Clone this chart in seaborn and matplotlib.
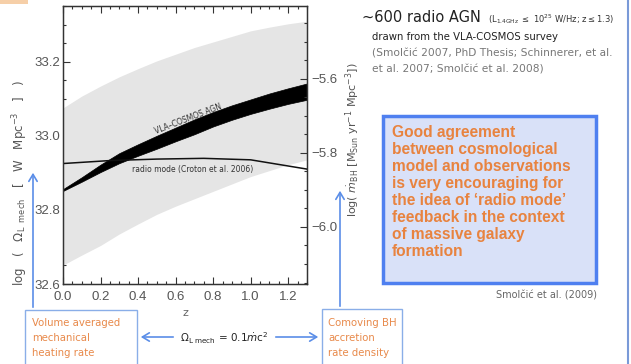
import numpy as np
import pandas as pd
import matplotlib
matplotlib.use("Agg")
import matplotlib.pyplot as plt
from matplotlib.patches import Rectangle, FancyArrowPatch
from matplotlib.ticker import MultipleLocator
import seaborn as sns

# ---------------- data ----------------
z_band = [0.0, 0.1, 0.2, 0.3, 0.4, 0.5, 0.6, 0.7, 0.8, 0.9, 1.0, 1.1, 1.2, 1.3]
band_upper = [33.075, 33.107, 33.134, 33.159, 33.181, 33.202, 33.220, 33.238,
              33.253, 33.268, 33.283, 33.293, 33.302, 33.309]
band_lower = [32.651, 32.678, 32.704, 32.735, 32.762, 32.788, 32.810, 32.830,
              32.850, 32.870, 32.890, 32.906, 32.922, 32.935]

z_agn = [0.0, 0.1, 0.2, 0.3, 0.4, 0.5, 0.6, 0.7, 0.8, 0.9, 1.0, 1.1, 1.2, 1.3]
agn_lower = [32.851, 32.876, 32.902, 32.926, 32.946, 32.965, 32.985, 33.004,
             33.025, 33.043, 33.059, 33.073, 33.086, 33.097]
agn_upper = [32.856, 32.888, 32.922, 32.953, 32.977, 33.000, 33.022, 33.044,
             33.064, 33.082, 33.098, 33.114, 33.128, 33.141]

z_radio = [0.0, 0.25, 0.5, 0.75, 1.0, 1.3]
radio_mode = [32.925, 32.933, 32.937, 32.939, 32.935, 32.910]

left_ticks = [32.6, 32.8, 33.0, 33.2]
right_ticks = [-6.0, -5.8, -5.6]
x_ticks = [0.0, 0.2, 0.4, 0.6, 0.8, 1.0, 1.2]
offset = 38.754  # log(0.1 c^2 Msun/yr) in W

box_lines = ["Good agreement", "between cosmological", "model and observations",
             "is very encouraging for", "the idea of \u2018radio mode\u2019",
             "feedback in the context", "of massive galaxy", "formation"]

# ---------------- figure ----------------
sns.set_style("ticks")
plt.rcParams["font.family"] = ["DejaVu Sans"]
W, H = 631, 364
fig = plt.figure(figsize=(W / 100, H / 100), dpi=100)
fig.patch.set_facecolor("white")

def F(x, y):
    return (x / W, 1 - y / H)

L, R, T, B = 63, 307, 6, 284
ax = fig.add_axes([L / W, 1 - B / H, (R - L) / W, (B - T) / H])
ax.set_xlim(0, 1.3)
ax.set_ylim(32.6, 33.35)

ax.fill_between(z_band, band_lower, band_upper, color="#e5e5e5", lw=0, zorder=1)
ax.fill_between(z_agn, agn_lower, agn_upper, facecolor="black", lw=0.5,
                edgecolor="black", zorder=2)
df_r = pd.DataFrame({"z": z_radio, "v": radio_mode})
sns.lineplot(data=df_r, x="z", y="v", ax=ax, color="#111111", lw=1.1, zorder=3)

ax.text(0.669, 33.045, "VLA\u2013COSMOS AGN", rotation=21, fontsize=5.5,
        color="#333333", ha="center", va="center", zorder=4)
ax.text(0.69, 32.91, "radio mode (Croton et al. 2006)", fontsize=5.5,
        color="#333333", ha="center", va="center", zorder=4)

tickfont = "Liberation Sans"
ax.set_xlabel("")
ax.set_ylabel("")
ax.set_xticks(x_ticks)
ax.set_xticklabels([f"{t:.1f}" for t in x_ticks], family=tickfont)
ax.set_yticks(left_ticks)
ax.set_yticklabels([f"{t:.1f}" for t in left_ticks], family=tickfont)
ax.xaxis.set_minor_locator(MultipleLocator(0.05))
ax.yaxis.set_minor_locator(MultipleLocator(0.05))
ax.tick_params(axis="both", which="major", direction="in", length=5, width=0.8,
               color="#333333", labelsize=9.5, labelcolor="#555555",
               top=True, right=False)
ax.tick_params(axis="both", which="minor", direction="in", length=2.5, width=0.8,
               color="#333333", top=True, right=False)
ax.tick_params(axis="x", pad=5)
ax.tick_params(axis="y", pad=2)
for s in ax.spines.values():
    s.set_visible(True)
    s.set_color("#333333")
    s.set_linewidth(1.0)

ax2 = ax.twinx()
ax2.set_ylim(32.6 - offset, 33.35 - offset)
ax2.set_yticks(right_ticks)
ax2.set_yticklabels([f"\u2212{abs(t):.1f}" for t in right_ticks], family=tickfont)
ax2.yaxis.set_minor_locator(MultipleLocator(0.05))
ax2.tick_params(axis="y", which="major", direction="in", length=5, width=0.8,
                color="#333333", labelsize=9.5, labelcolor="#555555", pad=3)
ax2.tick_params(axis="y", which="minor", direction="in", length=2.5, width=0.8,
                color="#333333")
for s in ax2.spines.values():
    s.set_color("#333333")

# axis labels
fig.text(*F(20, 183), r"log   (   $\Omega_{\rm L\ \ mech}$   [   W   Mpc$^{-3}$   ]   )",
         rotation=90, ha="center", va="center", fontsize=8.5, color="#555555")
fig.text(*F(353, 140), r"log( $\dot{m}_{\rm BH}$ [M$_{\rm Sun}$ yr$^{-1}$ Mpc$^{-3}$])",
         rotation=90, ha="center", va="center", fontsize=8, color="#555555")
fig.text(*F(185, 313), "z", ha="center", va="center", fontsize=8, color="#666666")

# blue arrows
arrow_c = "#5b8ee8"
def arrow(p0, p1):
    fig.add_artist(FancyArrowPatch(F(*p0), F(*p1), transform=fig.transFigure,
                   arrowstyle="->,head_width=3,head_length=5", color=arrow_c,
                   lw=1.2))
arrow((33, 310), (33, 170))
arrow((340, 309), (340, 188))
arrow((176, 337), (138, 337))
arrow((273, 337), (321, 337))

# bottom boxes
orange = "#e8894a"
fig.add_artist(Rectangle(F(25, 370), (137 - 25) / W, (370 - 310) / H,
               transform=fig.transFigure, fill=False, edgecolor="#8aaee8", lw=1))
fig.add_artist(Rectangle(F(322, 370), (402 - 322) / W, (370 - 309) / H,
               transform=fig.transFigure, fill=False, edgecolor="#8aaee8", lw=1))
for i, t in enumerate(["Volume averaged", "mechanical", "heating rate"]):
    fig.text(*F(32, 323 + 15 * i), t, ha="left", va="center", fontsize=7.3, color=orange)
for i, t in enumerate(["Comoving BH", "accretion", "rate density"]):
    fig.text(*F(328, 323 + 15 * i), t, ha="left", va="center", fontsize=7.3, color=orange)
fig.text(*F(224, 338), r"$\Omega_{\rm L\ mech}$ = 0.1$\dot{m}$c$^2$", ha="center",
         va="center", fontsize=7.5, color="#222222")

# top-right description
fig.text(*F(362, 18), "~600 radio AGN", ha="left", va="center", fontsize=10.5,
         color="#222222")
fig.text(*F(488, 19), r"(L$_{\rm 1.4GHz}$ $\leq$ 10$^{25}$ W/Hz; z$\leq$1.3)",
         ha="left", va="center", fontsize=6, color="#333333")
fig.text(*F(372, 37), "drawn from the VLA-COSMOS survey", ha="left", va="center",
         fontsize=7.3, color="#222222")
fig.text(*F(372, 54), "(Smol\u010di\u0107 2007, PhD Thesis; Schinnerer, et al.",
         ha="left", va="center", fontsize=7.7, color="#777777")
fig.text(*F(372, 70), "et al. 2007; Smol\u010di\u0107 et al. 2008)", ha="left",
         va="center", fontsize=7.7, color="#777777")

# blue conclusion box
fig.add_artist(Rectangle(F(383, 283), (596 - 383) / W, (283 - 116) / H,
               transform=fig.transFigure, facecolor="#d9e1f8", edgecolor="#4f80f0",
               lw=2.5))
for i, t in enumerate(box_lines):
    fig.text(*F(392, 133 + 16.9 * i), t, ha="left", va="center", fontsize=11.2,
             fontweight="bold", color="#e8833f", family=["Liberation Sans"])
fig.text(*F(597, 295), "Smol\u010di\u0107 et al. (2009)", ha="right", va="center",
         fontsize=7, color="#666666")

# slide decorations
fig.add_artist(plt.Line2D([628 / W, 628 / W], [0, 1], transform=fig.transFigure,
               color="#7a9ad8", lw=1.5))
fig.add_artist(Rectangle(F(0, 4), 28 / W, 4 / H, transform=fig.transFigure,
               facecolor="#f6cfa8", lw=0))

fig.savefig("out.png", dpi=100, facecolor="white")
